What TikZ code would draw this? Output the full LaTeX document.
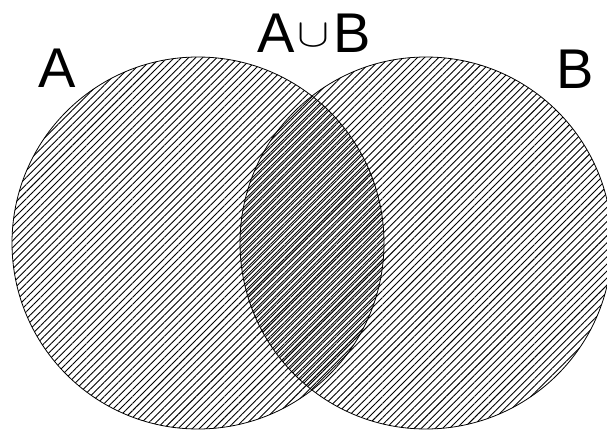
\documentclass[tikz,border=0pt]{standalone}
\usepackage{fontspec}
\setmainfont{Liberation Sans}
\usetikzlibrary{patterns.meta}
\tikzset{
  setcircle/.style={circle, draw=black, line width=0.8pt, minimum size=372pt, inner sep=0pt},
  hatchA/.style={pattern={Lines[angle=45, distance=5pt, line width=0.9pt]}},
  hatchB/.style={pattern={Lines[angle=45, distance=5pt, xshift=2.5pt, line width=0.9pt]}},
  setlabel/.style={font=\fontsize{56}{60}\selectfont, inner sep=0pt},
}
\newcommand{\bigcupsign}{\raisebox{6pt}{\resizebox{32pt}{22pt}{$\cup$}}}

\begin{document}
\begin{tikzpicture}[x=1pt,y=-1pt]
  \useasboundingbox (0,0) rectangle (607,430);
  \clip (0,0) rectangle (607,430);

  % Sets
  \node[setcircle, hatchA] (setA) at (198,243) {};
  \node[setcircle, hatchB] (setB) at (426,243) {};

  % Labels
  \node[setlabel] (labA)   at (57,68)  {A};
  \node[setlabel] (labB)   at (575,69) {B};
  \node[setlabel] (labAB)  at (314,33) {A\kern3pt\bigcupsign\kern4pt B};

\end{tikzpicture}
\end{document}
